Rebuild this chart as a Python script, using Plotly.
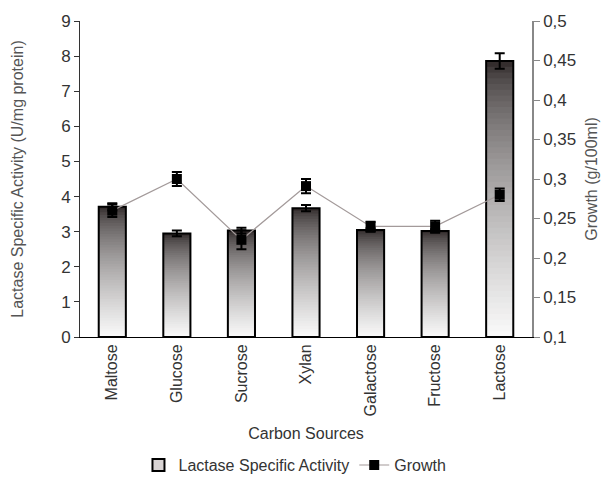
import plotly.graph_objects as go

categories = ["Maltose", "Glucose", "Sucrose", "Xylan", "Galactose", "Fructose", "Lactose"]
activity = [3.71, 2.95, 3.03, 3.67, 3.05, 3.02, 7.86]
activity_err = [0.10, 0.08, 0.08, 0.09, 0.05, 0.05, 0.22]
growth = [0.260, 0.300, 0.223, 0.291, 0.240, 0.240, 0.280]
growth_err = [0.008, 0.009, 0.012, 0.009, 0.006, 0.007, 0.008]

FONT = "Arial, Liberation Sans, sans-serif"
N = 48
BAR_W = 0.42

def grad_color(t):
    # t = 0 at bottom, 1 at top
    s = (1 - t) ** 0.6
    dark = (38, 31, 31)
    light = (250, 250, 250)
    c = [int(round(d + (l - d) * s)) for d, l in zip(dark, light)]
    return "rgb(%d,%d,%d)" % tuple(c)

fig = go.Figure()

# gradient fill: each slice runs from its base to the bar top, later slices cover earlier ones
for i in range(N):
    fig.add_trace(go.Bar(
        x=categories,
        y=[v * (N - i) / N for v in activity],
        base=[v * i / N for v in activity],
        width=BAR_W,
        marker=dict(color=grad_color((i + 0.5) / N), line=dict(width=0)),
        showlegend=False, hoverinfo="skip",
    ))

# outline + error bars
fig.add_trace(go.Bar(
    x=categories, y=activity, width=BAR_W,
    marker=dict(color="rgba(0,0,0,0)", line=dict(color="black", width=2)),
    error_y=dict(type="data", array=activity_err, color="black", thickness=2, width=5),
    showlegend=False, name="Lactase Specific Activity",
))

# legend entry for bars
fig.add_trace(go.Bar(
    x=[None], y=[None], name="Lactase Specific Activity",
    marker=dict(color="#d9d4d4", line=dict(color="black", width=2)),
))

fig.add_trace(go.Scatter(
    x=categories, y=growth, yaxis="y2", name="Growth", mode="lines+markers",
    line=dict(color="#a39a9a", width=1.2),
    marker=dict(symbol="square", size=10, color="black"),
    error_y=dict(type="data", array=growth_err, color="black", thickness=2, width=5),
))

fig.update_layout(
    template="none",
    width=602, height=477,
    margin=dict(l=80, r=70, t=21, b=140, autoexpand=False),
    barmode="overlay",
    separators=", ",
    paper_bgcolor="white", plot_bgcolor="white",
    font=dict(family=FONT, size=16, color="#333333"),
    xaxis=dict(
        range=[-0.5, 6.5], tickangle=-90, showgrid=False, zeroline=False,
        showline=True, linecolor="black", linewidth=1, ticks="",
        tickfont=dict(size=16, color="#333333"),
        title=dict(text="Carbon Sources", font=dict(size=16, color="#333333"), standoff=12),
        automargin=False,
    ),
    yaxis=dict(
        range=[0, 9], dtick=1, showgrid=False, zeroline=False,
        showline=True, linecolor="#333333", linewidth=1,
        ticks="outside", ticklen=5, tickcolor="#333333",
        tickfont=dict(size=17, color="#333333"),
        title=dict(text="Lactase Specific Activity (U/mg protein)", font=dict(size=16, color="#555555"), standoff=33),
        automargin=False,
    ),
    yaxis2=dict(
        overlaying="y", side="right", range=[0.1, 0.5], dtick=0.05, tick0=0.1,
        showgrid=False, zeroline=False,
        showline=True, linecolor="#888888", linewidth=1.5,
        ticks="outside", ticklen=6, tickcolor="#888888",
        tickfont=dict(size=17, color="#333333"),
        title=dict(text="Growth (g/100ml)", font=dict(size=16, color="#555555"), standoff=11),
        automargin=False,
    ),
    legend=dict(
        orientation="h", xref="container", yref="container",
        x=0.49, xanchor="center", y=0.025, yanchor="middle",
        font=dict(size=16, color="#333333"), bgcolor="rgba(0,0,0,0)",
        traceorder="normal", itemwidth=30,
    ),
    showlegend=True,
)

fig.write_html(
    "out.html",
    config={"displayModeBar": False},
    post_script="document.body.style.margin='0';document.body.style.overflow='hidden';",
)
